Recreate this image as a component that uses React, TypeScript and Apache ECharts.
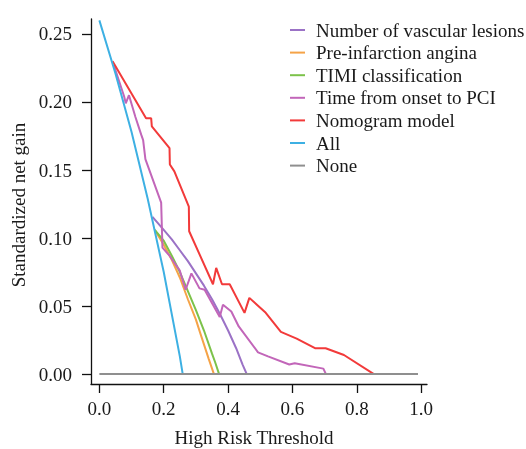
import React, { useEffect, useRef } from "react";
import * as echarts from "echarts";

const xTicks = [0, 0.2, 0.4, 0.6, 0.8, 1.0];
const yTicks = [0, 0.05, 0.1, 0.15, 0.2, 0.25];

const seriesNames = [
  "Number of vascular lesions",
  "Pre-infarction angina",
  "TIMI classification",
  "Time from onset to PCI",
  "Nomogram model",
  "All",
  "None",
];
const seriesColors = ["#9B72C6", "#F5A347", "#7CC24A", "#C266B9", "#F23A3A", "#3DB0E3", "#8F8F8F"];

const vascularX = [0.165, 0.2, 0.225, 0.25, 0.275, 0.3, 0.325, 0.35, 0.375, 0.4, 0.425, 0.445, 0.458];
const vascularY = [0.1155, 0.106, 0.099, 0.091, 0.083, 0.074, 0.065, 0.055, 0.044, 0.032, 0.019, 0.007, 0];

const anginaX = [0.172, 0.2, 0.225, 0.25, 0.275, 0.3, 0.315, 0.34, 0.356];
const anginaY = [0.106, 0.095, 0.084, 0.071, 0.055, 0.04, 0.029, 0.011, 0];

const timiX = [0.172, 0.2, 0.225, 0.25, 0.275, 0.3, 0.325, 0.35, 0.36, 0.372];
const timiY = [0.106, 0.098, 0.087, 0.075, 0.061, 0.047, 0.032, 0.015, 0.0085, 0];

const onsetX = [0.045, 0.077, 0.082, 0.092, 0.112, 0.13, 0.136, 0.143, 0.192, 0.196, 0.218, 0.25, 0.268, 0.286, 0.311, 0.327, 0.374, 0.384, 0.41, 0.433, 0.493, 0.524, 0.59, 0.607, 0.696, 0.704];
const onsetY = [0.227, 0.204, 0.199, 0.205, 0.189, 0.176, 0.172, 0.158, 0.126, 0.093, 0.087, 0.076, 0.062, 0.074, 0.063, 0.062, 0.042, 0.051, 0.046, 0.035, 0.016, 0.013, 0.007, 0.008, 0.004, 0];

const nomogramX = [0.041, 0.145, 0.161, 0.163, 0.218, 0.219, 0.233, 0.278, 0.279, 0.353, 0.363, 0.381, 0.405, 0.451, 0.466, 0.517, 0.564, 0.613, 0.67, 0.703, 0.76, 0.853, 0.872];
const nomogramY = [0.23, 0.188, 0.188, 0.182, 0.166, 0.154, 0.149, 0.123, 0.105, 0.066, 0.078, 0.066, 0.066, 0.045, 0.056, 0.045, 0.031, 0.026, 0.019, 0.019, 0.014, 0, 0];

const allX = [0, 0.05, 0.1, 0.15, 0.2, 0.25, 0.259];
const allY = [0.26, 0.221, 0.178, 0.129, 0.075, 0.013, 0];

const noneX = [0, 0.99];
const noneY = [0, 0];

const seriesXs = [vascularX, anginaX, timiX, onsetX, nomogramX, allX, noneX];
const seriesYs = [vascularY, anginaY, timiY, onsetY, nomogramY, allY, noneY];

const FONT = "'Liberation Serif', 'Times New Roman', serif";
const TEXT = "#1a1a1a";

export default function App() {
  const ref = useRef<HTMLDivElement>(null);
  useEffect(() => {
    if (!ref.current) return;
    const chart = echarts.init(ref.current, undefined, { renderer: "svg" });
    const series = seriesNames.map((name, i) => ({
      name,
      type: "line",
      data: seriesXs[i].map((x, k) => [x, seriesYs[i][k]]),
      symbol: "none",
      showSymbol: false,
      lineStyle: { color: seriesColors[i], width: 2 },
      itemStyle: { color: seriesColors[i] },
      emphasis: { disabled: true },
    }));
    chart.setOption({
      animation: false,
      grid: { left: 91, right: 99, top: 19, bottom: 65 },
      xAxis: {
        type: "value",
        min: -0.026,
        max: 1.018,
        axisLine: { show: true, onZero: false, lineStyle: { color: "#111", width: 1.3 } },
        axisTick: { show: true, length: 9, customValues: xTicks, lineStyle: { color: "#111", width: 1.3 } },
        axisLabel: {
          customValues: xTicks,
          formatter: (v: number) => v.toFixed(1),
          margin: 15,
          fontFamily: FONT,
          fontSize: 19,
          color: TEXT,
        },
        splitLine: { show: false },
      },
      yAxis: {
        type: "value",
        min: -0.0073,
        max: 0.261,
        axisLine: { show: true, onZero: false, lineStyle: { color: "#111", width: 1.3 } },
        axisTick: { show: true, length: 9, customValues: yTicks, lineStyle: { color: "#111", width: 1.3 } },
        axisLabel: {
          customValues: yTicks,
          formatter: (v: number) => v.toFixed(2),
          margin: 19,
          fontFamily: FONT,
          fontSize: 19,
          color: TEXT,
        },
        splitLine: { show: false },
      },
      legend: {
        orient: "vertical",
        left: 290,
        top: 20,
        padding: 0,
        icon: "rect",
        itemWidth: 15,
        itemHeight: 2,
        itemGap: 2.6,
        selectedMode: false,
        textStyle: { fontFamily: FONT, fontSize: 19, color: TEXT, lineHeight: 20, padding: [0, 0, 0, 6] },
        data: seriesNames,
      },
      graphic: [
        {
          type: "text",
          x: 18,
          y: 205,
          rotation: Math.PI / 2,
          style: {
            text: "Standardized net gain",
            font: `19px ${FONT}`,
            fill: TEXT,
            align: "center",
            verticalAlign: "middle",
          },
        },
        {
          type: "text",
          x: 254,
          y: 437,
          style: {
            text: "High Risk Threshold",
            font: `19px ${FONT}`,
            fill: TEXT,
            align: "center",
            verticalAlign: "middle",
          },
        },
      ],
      series,
    });
    return () => chart.dispose();
  }, []);
  return <div ref={ref} style={{ position: "fixed", left: 0, top: 0, width: 526, height: 449 }} />;
}
